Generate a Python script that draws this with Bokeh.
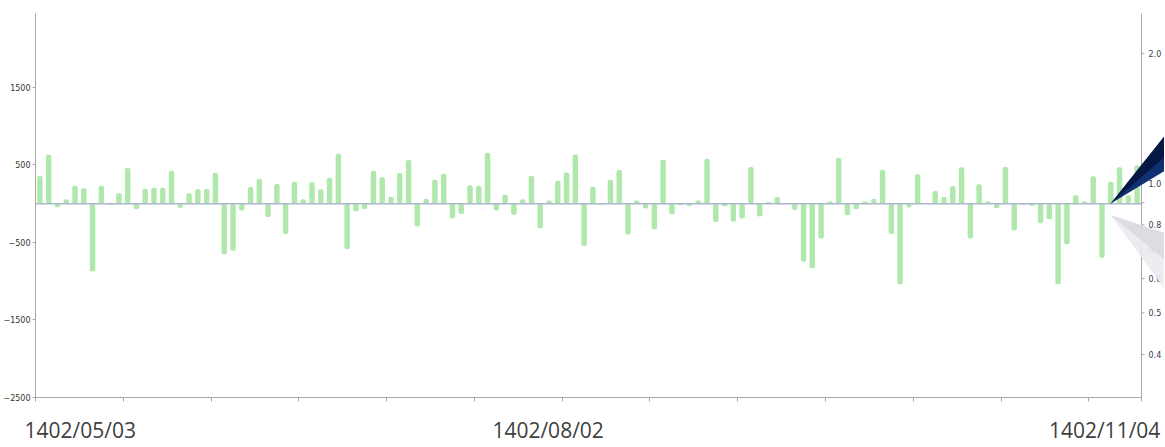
from bokeh.plotting import figure
from bokeh.models import (Range1d, LinearAxis, FixedTicker, LogScale)
from bokeh.core.properties import value
from bokeh.embed import file_html
from bokeh.resources import INLINE

# ---- data ----
values = [356, 631, -47, 56, 232, 197, -875, 232, -17, 133,
          459, -73, 193, 206, 206, 425, -56, 133, 189, 189,
          399, -652, -609, -90, 215, 322, -172, 253, -390, 283,
          56, 275, 184, 335, 644, -588, -99, -69, 425, 339,
          90, 395, 562, -296, 64, 309, 386, -193, -133, 236,
          232, 656, -90, 116, -142, 56, 360, -317, 39, 296,
          403, 635, -545, 219, -13, 309, 433, -399, 39, -64,
          -335, 566, -137, -17, -30, 39, 579, -236, -34, -232,
          -193, 472, -167, 21, 86, 5, -82, -751, -832, -450,
          26, 588, -150, -73, 26, 64, 438, -390, -1040, -51,
          378, 4, 163, 90, 227, 468, -450, 249, 26, -60,
          472, -347, -13, -26, -253, -202, -1040, -523, 107, 26,
          352, -699, 283, 468, 107, 493]
bar_index = list(range(len(values)))
date_labels = ["1402/05/03", "1402/08/02", "1402/11/04"]
date_label_index = [4.6, 57.9, 121.3]
left_ticks = [-2500, -1500, -500, 500, 1500]
right_ticks = [0.4, 0.5, 0.6, 0.7, 0.8, 0.9, 1.0, 2.0]
right_labels = ["0.4", "0.5", "0.6", "0.7", "0.8", "", "1.0", "2.0"]

n = len(values)
xc = [i + 0.5 for i in bar_index]

W, H = 1164, 446
FL, FR_AXIS, FT, FB = 35, 1141, 13, 398          # frame / right-axis pixel layout
ppu = (FR_AXIS - FL) / n                          # pixels per bar slot
x_end = n + (W - FR_AXIS) / ppu

p = figure(width=W, height=H, output_backend="svg", toolbar_location=None,
           x_range=Range1d(0, x_end), y_range=Range1d(-2500, 2452),
           x_axis_type=None, y_axis_type=None,
           min_border_left=FL, min_border_top=FT, min_border_bottom=H - FB, min_border_right=0)
p.outline_line_color = None
p.xgrid.visible = False
p.ygrid.visible = False
p.background_fill_color = "white"
p.border_fill_color = "white"

p.extra_y_ranges = {"ratio": Range1d(0.318, 2.475)}
p.extra_y_scales = {"ratio": LogScale()}

# left axis
la = LinearAxis(ticker=FixedTicker(ticks=left_ticks))
la.axis_line_color = "#a8a8a8"
la.major_tick_line_color = "#a8a8a8"
la.major_tick_out = 3
la.major_tick_in = 0
la.minor_tick_line_color = None
la.major_label_text_font = "DejaVu Sans"
la.major_label_text_font_size = "8px"
la.major_label_text_color = "#3c3228"
la.major_label_standoff = 2
p.add_layout(la, "left")

# bottom axis with tick marks only
ba = LinearAxis(ticker=FixedTicker(ticks=list(range(0, n, 10)) + [n]), bounds=(0, n))
ba.axis_line_color = "#a8a8a8"
ba.major_tick_line_color = "#a8a8a8"
ba.major_tick_out = 4
ba.major_tick_in = 0
ba.minor_tick_line_color = None
ba.major_label_text_font_size = "0px"
ba.major_label_standoff = 0
p.add_layout(ba, "below")

# bottom axis carrying the date labels
da = LinearAxis(ticker=FixedTicker(ticks=[v + 0.5 for v in date_label_index]))
da.major_label_overrides = {v + 0.5: t for v, t in zip(date_label_index, date_labels)}
da.axis_line_color = None
da.major_tick_line_color = None
da.minor_tick_line_color = None
da.major_label_text_font = "Open Sans"
da.major_label_text_font_size = "21px"
da.major_label_text_color = "#404040"
da.major_label_standoff = 8
p.add_layout(da, "below")

# bars
p.vbar(x=xc, top=values, bottom=0, width=0.62, fill_color="#afe8aa",
       line_color=None, border_radius=2)

# zero line
p.segment(x0=[0], y0=[0], x1=[n], y1=[0], line_color="#a9b8cc", line_width=1.5)

# right (log) axis drawn inside the extended frame
p.segment(x0=[n], y0=[-2500], x1=[n], y1=[2452], line_color="#a8a8a8", line_width=1)
tick_len = 3 / ppu
p.segment(x0=[n] * len(right_ticks), y0=right_ticks, x1=[n + tick_len] * len(right_ticks),
          y1=right_ticks, y_range_name="ratio", line_color="#a8a8a8", line_width=1)
p.text(x=[n] * len(right_ticks), y=right_ticks, text=right_labels, y_range_name="ratio",
       x_offset=7, text_font=value("DejaVu Sans"), text_font_size="8px",
       text_baseline="middle", text_align="left", text_color="#3a3a50")

# decorative wedges at right edge
tip = 122.47
gx = [tip, x_end, x_end]
p.patch(x=gx, y=[-147, -378, -1100], fill_color="#ebebef", fill_alpha=0.9, line_color=None)
p.patch(x=gx, y=[-147, -378, -720], fill_color="#d6d6de", fill_alpha=0.75, line_color=None)
p.patch(x=gx, y=[0, 870, 420], fill_color="#0f3172", line_color=None)
p.patch(x=gx, y=[0, 870, 600], fill_color="#04143c", fill_alpha=0.85, line_color=None)

open("out.html", "w").write(file_html(p, INLINE))
